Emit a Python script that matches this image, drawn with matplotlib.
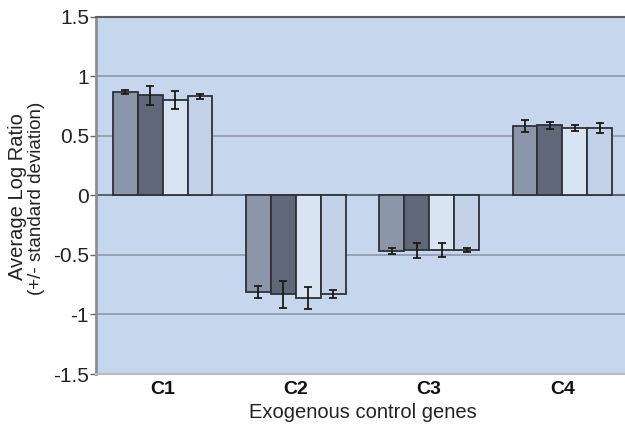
#!/usr/bin/env python3
# Exogenous control genes bar chart with error bars.

import matplotlib
matplotlib.use("Agg")
import matplotlib.pyplot as plt
import numpy as np

genes = ["C1", "C2", "C3", "C4"]

# four replicate series per gene
series1 = [0.87, -0.81, -0.47, 0.58]
series2 = [0.84, -0.83, -0.46, 0.59]
series3 = [0.80, -0.86, -0.46, 0.565]
series4 = [0.83, -0.83, -0.46, 0.565]

err1 = [0.015, 0.05, 0.025, 0.052]
err2 = [0.08, 0.113, 0.064, 0.03]
err3 = [0.078, 0.094, 0.059, 0.023]
err4 = [0.022, 0.036, 0.017, 0.04]

yTicks = [-1.5, -1, -0.5, 0, 0.5, 1, 1.5]
yTickLabels = ["-1.5", "-1", "-0.5", "0", "0.5", "1", "1.5"]


def main():
	plt.rcParams['font.family'] = ['Liberation Sans', 'DejaVu Sans']

	fig = plt.figure(figsize=(6.25, 4.29), dpi=100)
	W, H = 625.0, 429.0
	ax = fig.add_axes([96 / W, (H - 374) / H, 533 / W, (374 - 16.7) / H])
	ax.set_facecolor("#c6d6ec")

	allSeries = [series1, series2, series3, series4]
	allErr = [err1, err2, err3, err4]
	colours = ["#8b97a9", "#5f6878", "#d9e4f3", "#c4d2e8"]

	x = np.arange(len(genes))
	barW = 0.187
	offsets = (np.arange(4) - 1.5) * barW

	# gridlines
	for yv in [1, 0.5, -0.5, -1]:
		ax.axhline(yv, color="#8e99a8", lw=1.2, zorder=1)
	ax.axhline(0, color="#505a66", lw=1.3, zorder=1)

	for i in range(4):
		ax.bar(x + offsets[i], allSeries[i], width=barW, color=colours[i],
			edgecolor="#2e3238", linewidth=1.3, zorder=2)
		ax.errorbar(x + offsets[i], allSeries[i], yerr=allErr[i], fmt="none",
			ecolor="#1a1a1a", elinewidth=1.3, capsize=3.2, capthick=1.3, zorder=3)

	ax.set_xlim(-0.5, 3.5)
	ax.set_ylim(-1.5, 1.5)
	ax.set_yticks(yTicks)
	ax.set_yticklabels(yTickLabels, fontsize=15, color="#222222")
	ax.set_xticks(x)
	ax.set_xticklabels(genes, fontsize=14, fontweight="bold", color="#111111")
	ax.tick_params(axis="x", length=0, pad=5)
	ax.tick_params(axis="y", length=4, width=1, color="#666666", pad=1)

	ax.spines["right"].set_visible(False)
	ax.spines["top"].set_color("#5a6068")
	ax.spines["top"].set_linewidth(1.5)
	ax.spines["left"].set_color("#8a8f96")
	ax.spines["left"].set_linewidth(2)
	ax.spines["bottom"].set_color("#b8bcc2")
	ax.spines["bottom"].set_linewidth(1.5)

	# two-line y label
	fig.text(18 / W, 1 - 197 / H, "Average Log Ratio", rotation=90, fontsize=14.5,
		color="#222222", ha="center", va="center")
	fig.text(37 / W, 1 - 198 / H, "(+/- standard deviation)", rotation=90, fontsize=13.5,
		color="#222222", ha="center", va="center")
	ax.set_xlabel("Exogenous control genes", fontsize=14.5, color="#222222", labelpad=4)

	fig.savefig("out.png", dpi=100)
	return 0


if __name__ == '__main__':
	import sys
	sys.exit(main())
